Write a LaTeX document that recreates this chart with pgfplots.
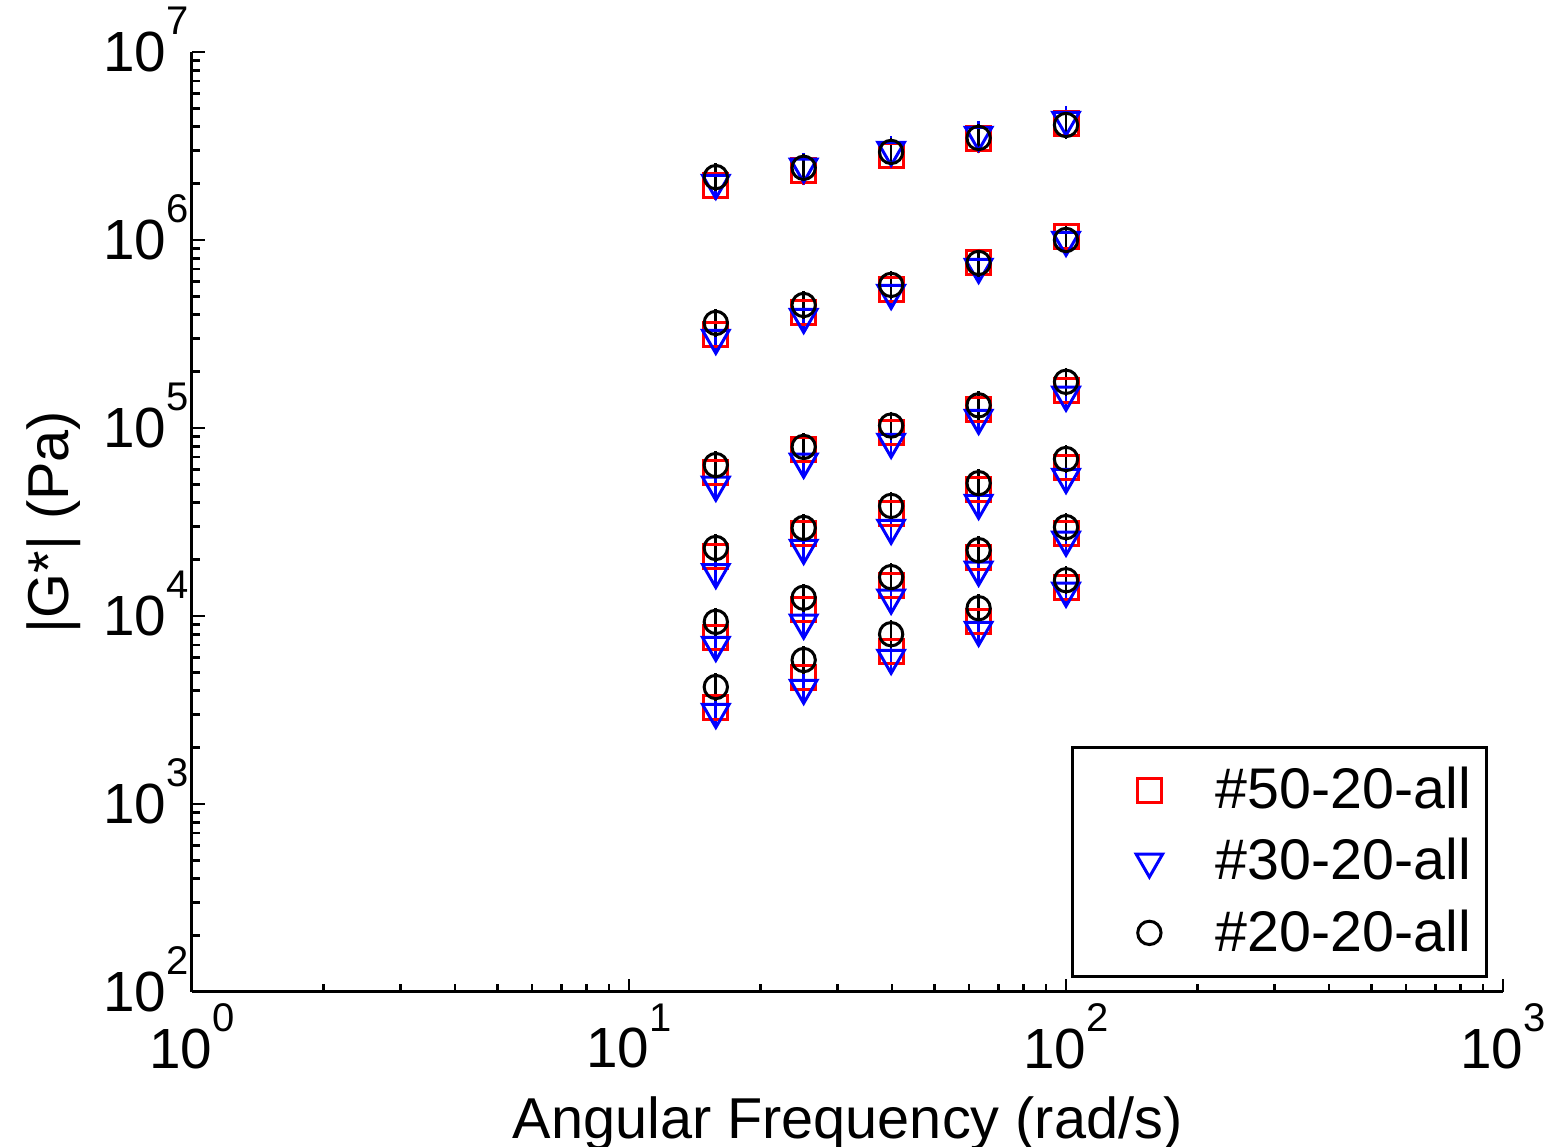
\documentclass[border=0pt]{standalone}
\usepackage{pgfplots}
\pgfplotsset{compat=1.18}
\usepackage{pgfplotstable}
\usepackage{fontspec}
\setmainfont{Liberation Sans}
\newcommand{\xtl}[1]{10\raisebox{11pt}{\fontsize{12}{12}\selectfont #1}}
\newcommand{\ytl}[1]{10\raisebox{11pt}[0pt][0pt]{\fontsize{12}{12}\selectfont #1}}

\pgfplotstableread{
x y
15.8 1.94e6
25.1 2.33e6
39.8 2.83e6
63.1 3.45e6
100 4.14e6
15.8 3.13e5
25.1 4.09e5
39.8 5.42e5
63.1 7.55e5
100 1.04e6
15.8 5.83e4
25.1 7.64e4
39.8 9.5e4
63.1 1.25e5
100 1.59e5
15.8 2.06e4
25.1 2.76e4
39.8 3.53e4
63.1 4.68e4
100 6.2e4
15.8 7.73e3
25.1 1.08e4
39.8 1.46e4
63.1 2.04e4
100 2.76e4
15.8 3.28e3
25.1 4.68e3
39.8 6.44e3
63.1 9.3e3
100 1.41e4
}\dataA

\pgfplotstableread{
x y
15.8 2.01e6
25.1 2.45e6
39.8 3.01e6
63.1 3.62e6
100 4.35e6
15.8 3.01e5
25.1 3.89e5
39.8 5.22e5
63.1 7.18e5
100 1.0e6
15.8 4.98e4
25.1 6.6e4
39.8 8.43e4
63.1 1.13e5
100 1.50e5
15.8 1.71e4
25.1 2.30e4
39.8 2.94e4
63.1 3.99e4
100 5.48e4
15.8 7.0e3
25.1 9.2e3
39.8 1.25e4
63.1 1.76e4
100 2.54e4
15.8 3.08e3
25.1 4.14e3
39.8 5.98e3
63.1 8.43e3
100 1.36e4
}\dataB

\pgfplotstableread{
x y
15.8 2.16e6
25.1 2.42e6
39.8 2.94e6
63.1 3.49e6
100 4.09e6
15.8 3.62e5
25.1 4.51e5
39.8 5.77e5
63.1 7.55e5
100 1.0e6
15.8 6.35e4
25.1 7.93e4
39.8 1.03e5
63.1 1.32e5
100 1.76e5
15.8 2.30e4
25.1 2.94e4
39.8 3.85e4
63.1 5.09e4
100 6.84e4
15.8 9.3e3
25.1 1.25e4
39.8 1.61e4
63.1 2.24e4
100 2.97e4
15.8 4.19e3
25.1 5.83e3
39.8 8.0e3
63.1 1.10e4
100 1.55e4
}\dataC

\begin{document}
\begin{tikzpicture}
\path[use as bounding box] (-57.6pt,-46.5pt) rectangle (407.4pt,297.6pt);
\begin{axis}[
  at={(0,0)}, anchor=south west,
  scale only axis, width=393.3pt, height=282pt,
  xmode=log, ymode=log,
  xmin=1, xmax=1000, ymin=100, ymax=1e7,
  axis lines*=left,
  axis line style={line width=0.9pt},
  tick align=inside,
  major tick length=4pt, minor tick length=2.5pt,
  every tick/.style={black, line width=0.8pt},
  xtick={1,10,100,1000},
  xticklabels={\xtl{0},\xtl{1},\xtl{2},\xtl{3}},
  ytick={100,1000,10000,100000,1000000,10000000},
  yticklabels={\ytl{2},\ytl{3},\ytl{4},\ytl{5},\ytl{6},\ytl{7}},
  tick label style={font=\fontsize{17}{20}\selectfont},
  yticklabel style={xshift=2.5pt},
  xlabel={Angular Frequency (rad/s)},
  ylabel={|G*| (Pa)},
  xlabel style={yshift=-1.5pt},
  label style={font=\fontsize{17.3}{20}\selectfont},
  legend cell align=left,
  legend image code/.code={\path (0pt,0pt) (30pt,0pt); \draw[#1] plot coordinates {(20pt,0pt)};},
  legend style={at={(rel axis cs:1,0)}, anchor=south east, xshift=-4.6pt, yshift=4.3pt,
    draw=black, line width=0.9pt, font=\fontsize{17.2}{20}\selectfont,
    inner xsep=2.6pt, inner ysep=4pt, row sep=3.4pt,
    /tikz/every odd column/.append style={column sep=7.5pt}},
]
\addplot[only marks, color=red, mark=square, mark size=3.6pt, mark options={line width=0.9pt, fill=none},
  error bars/.cd, y dir=both, y fixed relative=0.05,
  error bar style={line width=0.8pt}, error mark options={line width=0.8pt, mark size=3pt}]
  table[x=x,y=y] {\dataA};
\addlegendentry{\#50-20-all}
\addplot[only marks, color=blue, mark=triangle, mark size=4.6pt, mark options={rotate=180, line width=0.9pt, fill=none},
  error bars/.cd, y dir=both, y fixed relative=0.05,
  error bar style={line width=0.8pt}, error mark options={line width=0.8pt, mark size=3pt}]
  table[x=x,y=y] {\dataB};
\addlegendentry{\#30-20-all}
\addplot[only marks, color=black, mark=o, mark size=3.5pt, mark options={line width=0.9pt, fill=none},
  error bars/.cd, y dir=both, y fixed relative=0.05,
  error bar style={line width=0.8pt}, error mark options={line width=0.8pt, mark size=3pt}]
  table[x=x,y=y] {\dataC};
\addlegendentry{\#20-20-all}
\end{axis}
\end{tikzpicture}
\end{document}
